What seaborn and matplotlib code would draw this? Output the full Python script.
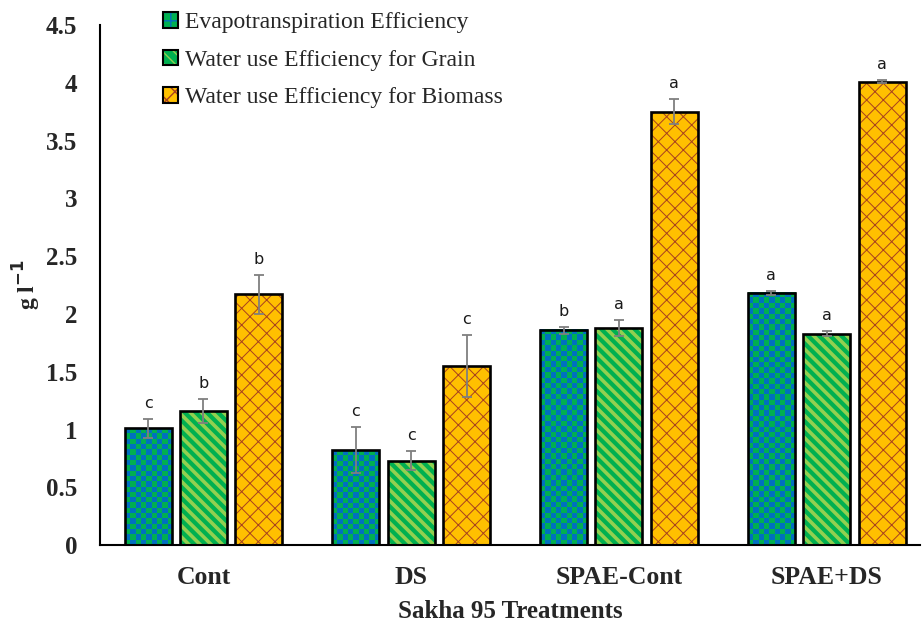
import numpy as np
import pandas as pd
import matplotlib.pyplot as plt
import seaborn as sns
from matplotlib.colors import ListedColormap
from matplotlib.legend_handler import HandlerTuple
from matplotlib.patches import Rectangle, Patch

# data
treatments = ["Cont", "DS", "SPAE-Cont", "SPAE+DS"]
series = ["Evapotranspiration Efficiency",
          "Water use Efficiency for Grain",
          "Water use Efficiency for Biomass"]
et_eff = [1.01, 0.82, 1.86, 2.18]
wue_grain = [1.16, 0.73, 1.88, 1.83]
wue_biomass = [2.17, 1.55, 3.75, 4.01]
et_err = [0.08, 0.20, 0.03, 0.02]
grain_err = [0.10, 0.08, 0.07, 0.02]
biomass_err = [0.17, 0.27, 0.11, 0.01]
et_letters = ["c", "c", "b", "a"]
grain_letters = ["b", "c", "a", "a"]
biomass_letters = ["b", "c", "a", "a"]

values = [et_eff, wue_grain, wue_biomass]
errors = [et_err, grain_err, biomass_err]
letters = [et_letters, grain_letters, biomass_letters]

rows = []
for s, vals in zip(series, values):
    for t, v in zip(treatments, vals):
        rows.append({"Treatment": t, "Series": s, "Value": v})
df = pd.DataFrame(rows)

face_colors = ["#00b050", "#00b050", "#ffc000"]
hatch_colors = ["#0070c0", "#92d050", "#a8401f"]
hatches = [None, "\\\\\\", "xx"]
hatch_lw = [1.0, 2.6, 0.7]
checker_cmap = ListedColormap(["#00b050", "#0070c0"])

sns.set_style("white")
plt.rcParams["font.family"] = ["Liberation Serif", "DejaVu Serif"]

fig = plt.figure(figsize=(9.22, 6.23), dpi=100)
ax = fig.add_axes([0.108, 0.125, 0.89, 0.835])

sns.barplot(data=df, x="Treatment", y="Value", hue="Series", order=treatments,
            hue_order=series, palette=face_colors, saturation=1, width=0.8, gap=0.15,
            errorbar=None, legend=False, ax=ax)
ax.set_ylim(0, 4.5)
ax.set_xlim(-0.5, 3.45)

bar_groups = list(ax.containers)
for i, cont in enumerate(bar_groups):
    for j, bar in enumerate(cont.patches):
        x0, y0 = bar.get_x(), bar.get_y()
        w, h = bar.get_width(), bar.get_height()
        if i == 0:
            # checkerboard fill, cells about 5.4 px square
            p0 = ax.transData.transform((x0, 0))
            p1 = ax.transData.transform((x0 + w, h))
            ncols = max(1, int(round((p1[0] - p0[0]) / 5.4)))
            nrows = max(1, int(round((p1[1] - p0[1]) / 5.4)))
            grid = np.indices((nrows, ncols)).sum(axis=0) % 2
            ax.imshow(grid, cmap=checker_cmap, extent=(x0, x0 + w, y0, y0 + h),
                      origin="lower", aspect="auto", interpolation="nearest",
                      zorder=2.05)
        else:
            with plt.rc_context({"hatch.linewidth": hatch_lw[i]}):
                hp = Rectangle((x0, y0), w, h, facecolor="none",
                               edgecolor=hatch_colors[i], hatch=hatches[i],
                               linewidth=0, zorder=2.1)
            if hasattr(hp, "set_hatch_linewidth"):
                hp.set_hatch_linewidth(hatch_lw[i])
            ax.add_patch(hp)
        ax.add_patch(Rectangle((x0, y0), w, h, fill=False, edgecolor="black",
                               linewidth=1.9, zorder=2.2))
        bar.set_edgecolor("none")
        xc = x0 + w / 2
        top = values[i][j] + errors[i][j]
        ax.errorbar(xc, values[i][j], yerr=errors[i][j], color="#7f7f7f",
                    capsize=3.6, elinewidth=1.3, capthick=1.3, zorder=3)
        ax.text(xc, top + 0.07, letters[i][j], ha="center", va="bottom",
                fontsize=11.5, family="DejaVu Sans", color="#1a1a1a")

ax.set_ylim(0, 4.5)
ax.set_xlim(-0.5, 3.45)
ax.set_yticks([0, 0.5, 1, 1.5, 2, 2.5, 3, 3.5, 4, 4.5])
ax.set_yticklabels(["0", "0.5", "1", "1.5", "2", "2.5", "3", "3.5", "4", "4.5"])
for sp in ["top", "right"]:
    ax.spines[sp].set_visible(False)
for sp in ["left", "bottom"]:
    ax.spines[sp].set_linewidth(1.5)
    ax.spines[sp].set_color("black")
ax.tick_params(axis="y", direction="out", length=5, width=1.5, labelsize=18, pad=11)
ax.tick_params(axis="x", direction="out", length=5, width=1.5, labelsize=18.5, pad=10)
for lab in ax.get_xticklabels() + ax.get_yticklabels():
    lab.set_fontweight("bold")
ax.set_xlabel("Sakha 95 Treatments", fontsize=18, fontweight="bold", labelpad=8)
ax.set_ylabel("g l$^{\\mathbf{-1}}$", fontsize=17, fontweight="bold", labelpad=2)

handles = []
legend_hatches = ["++", "\\\\\\", "xx"]
for i in range(3):
    with plt.rc_context({"hatch.linewidth": [1.5, 1.8, 0.6][i]}):
        hd = Patch(facecolor=face_colors[i], edgecolor=hatch_colors[i],
                   hatch=legend_hatches[i], linewidth=0)
    border = Patch(facecolor="none", edgecolor="black", linewidth=1.5)
    handles.append((hd, border))
ax.legend(handles, series, loc="upper left", bbox_to_anchor=(0.077, 1.025),
          frameon=False, fontsize=17, handlelength=0.65, handleheight=0.65,
          handletextpad=0.3, labelspacing=0.7, borderpad=0, borderaxespad=0,
          handler_map={tuple: HandlerTuple(ndivide=1, pad=0)})

fig.savefig("out.png", dpi=100)
